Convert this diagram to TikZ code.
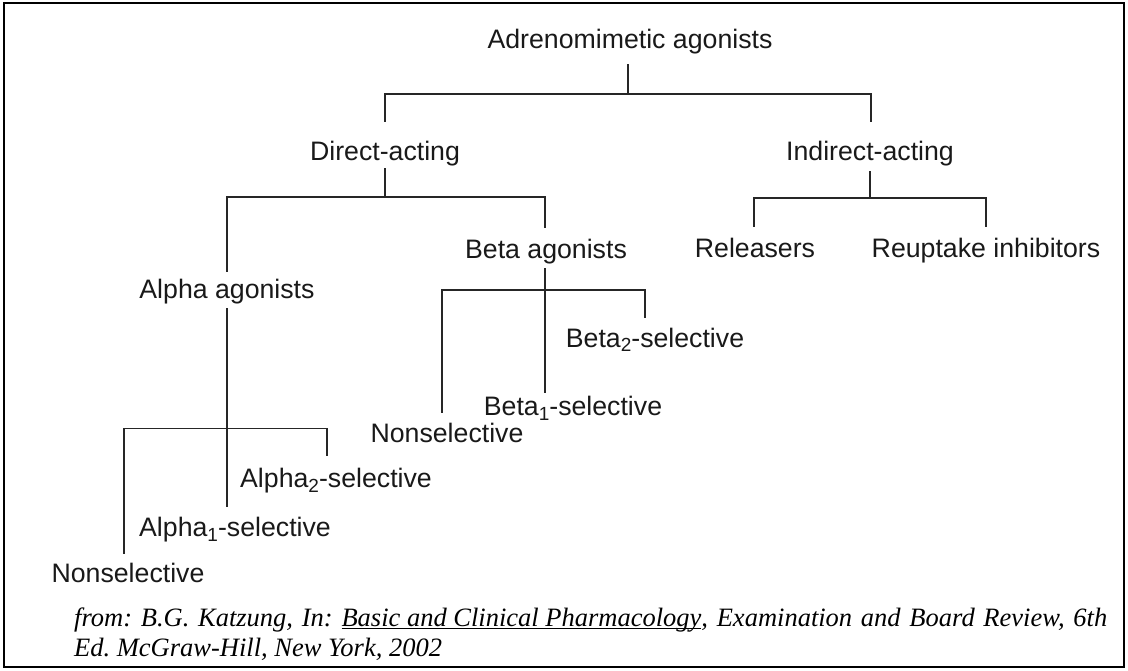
\documentclass[tikz,border=0pt]{standalone}
\usepackage{fontspec}
\setmainfont{Liberation Serif}
\newfontfamily\labelfont{Liberation Sans}
\usetikzlibrary{calc}
\newcommand\myul[1]{\leavevmode\setbox0\hbox{#1}\rlap{\rule[-3pt]{\wd0}{1.5pt}}\box0}
\newcommand\sbs[1]{\raisebox{-5pt}{\fontsize{19}{19}\selectfont #1}}
\frenchspacing
\begin{document}
\begin{tikzpicture}[x=1pt,y=-1pt,
  lbl/.style={font=\labelfont\fontsize{26.7}{30}\selectfont, inner sep=0pt,
    text height=19pt, text depth=6pt, anchor=base, text=black!90},
  cite/.style={font=\itshape\fontsize{26.5}{29}\selectfont, inner sep=0pt, anchor=base west},
  conn/.style={line width=1.4pt, draw=black!85}]
\useasboundingbox (0,0) rectangle (1128,671);
\draw[line width=2pt] (4,3) rectangle (1124,667);

\node[lbl] (adr) at (630,49) {Adrenomimetic agonists};
\node[lbl] (direct) at (385,161) {Direct-acting};
\node[lbl] (indirect) at (870,161) {Indirect-acting};
\node[lbl] (alpha) at (227,299) {Alpha agonists};
\node[lbl] (beta) at (546,259) {Beta agonists};
\node[lbl] (rel) at (755,258) {Releasers};
\node[lbl] (reup) at (986,258) {Reuptake inhibitors};
\node[lbl] (anon) at (128,582) {Nonselective};
\node[lbl] (alpha1) at (235,536) {Alpha\sbs{1}-selective};
\node[lbl] (alpha2) at (336,487) {Alpha\sbs{2}-selective};
\node[lbl] (beta2) at (655,347) {Beta\sbs{2}-selective};
\node[lbl] (beta1) at (573,415) {Beta\sbs{1}-selective};
\node[lbl] (bnon) at (447,442) {Nonselective};

\node[cite] (cite1) at (74,626) {\makebox[1033pt][s]{from: B.G. Katzung, In: \myul{Basic and Clinical Pharmacology}, Examination and Board Review, 6th}};
\node[cite] (cite2) at (74,656) {Ed. McGraw-Hill, New York, 2002};

% level 1
\draw[conn] ($(adr.south)+(-2,9)$) -- ($(adr.south)+(-2,39)$) coordinate (j1);
\draw[conn] ($(direct.north)+(0,-20)$) |- (j1) -| ($(indirect.north)+(1,-20)$);
% direct-acting
\draw[conn] ($(direct.south)+(0,1)$) -- ($(direct.south)+(0,30)$) coordinate (j2);
\draw[conn] ($(alpha.north)+(0,-8)$) |- (j2) -| ($(beta.north)+(-1,-12)$);
% alpha agonists
\draw[conn] ($(alpha.south)+(0,3)$) -- ($(alpha.south |- alpha1.north)+(0,-10)$);
\coordinate (j3) at ($(alpha.south)+(0,123)$);
\draw[conn] ($(anon.north)+(-4,-9)$) |- (j3) -| ($(alpha2.north)+(-9,-12)$);
% beta agonists
\draw[conn] ($(beta.south)+(-1,3)$) -- ($(beta.south |- beta1.north)+(-1,-3)$);
\coordinate (j4) at ($(beta.south)+(-1,25)$);
\draw[conn] ($(bnon.north)+(-5,-10)$) |- (j4) -| ($(beta2.north)+(-10,-10)$);
% indirect-acting
\draw[conn] ($(indirect.south)+(0,4)$) -- ($(indirect.south)+(0,31)$) coordinate (j5);
\draw[conn] ($(rel.north)+(-1,-12)$) |- (j5) -| ($(reup.north)+(0,-12)$);
\end{tikzpicture}
\end{document}
